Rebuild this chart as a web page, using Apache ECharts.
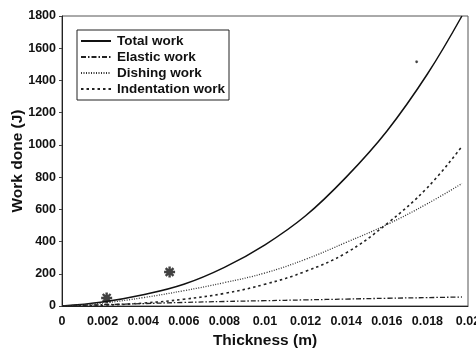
<!DOCTYPE html>
<html><head><meta charset="utf-8">
<script src="https://cdn.jsdelivr.net/npm/echarts@6/dist/echarts.min.js"></script>
<style>html,body{margin:0;padding:0;background:#fff}#c{width:476px;height:352px}</style>
</head><body><div id="c"></div>
<script>
const thickness = [0, 0.002, 0.004, 0.006, 0.008, 0.010, 0.012, 0.014, 0.016, 0.018, 0.0197];
const totalWork = [0, 25, 70, 135, 240, 380, 560, 800, 1085, 1440, 1800];
const elasticWork = [0, 8, 15, 22, 28, 33, 38, 43, 48, 52, 56];
const dishingWork = [0, 18, 52, 95, 145, 205, 290, 395, 505, 635, 760];
const indentationWork = [0, 5, 18, 42, 78, 135, 215, 330, 510, 735, 990];
const expThickness = [0.0022, 0.0053, 0.01747];
const expWork = [50, 211, 1516];
const xTicks = ['0','0.002','0.004','0.006','0.008','0.01','0.012','0.014','0.016','0.018','0.02'];

const pairs = (xs, ys) => xs.map((x, i) => [x, ys[i]]);
const asterisk = 'path://M-1.1,-5L1.1,-5L1.1,5L-1.1,5Z M-5,-1.1L5,-1.1L5,1.1L-5,1.1Z M-4.3,-2.8L-2.8,-4.3L4.3,2.8L2.8,4.3Z M2.8,-4.3L4.3,-2.8L-2.8,4.3L-4.3,2.8Z';
const font = 'Liberation Sans, Arial, sans-serif';

const chart = echarts.init(document.getElementById('c'), null, {renderer: 'canvas'});
chart.setOption({
  animation: false,
  backgroundColor: '#fff',
  grid: {left: 62, right: 8, top: 16, bottom: 46, show: true, borderColor: '#555', borderWidth: 1,
    containLabel: false, outerBoundsMode: 'none'},
  xAxis: {
    type: 'value', min: 0, max: 0.02, interval: 0.002,
    name: 'Thickness (m)', nameLocation: 'middle', nameGap: 27, nameMoveOverlap: false,
    nameTextStyle: {fontFamily: font, fontWeight: 'bold', fontSize: 15.5, color: '#111'},
    axisLine: {show: true, lineStyle: {color: '#222'}},
    axisTick: {show: false},
    splitLine: {show: false},
    axisLabel: {fontFamily: font, fontWeight: 'bold', fontSize: 12.5, color: '#111', margin: 9,
      showMaxLabel: true, hideOverlap: false,
      formatter: v => xTicks[Math.round(v / 0.002)]}
  },
  yAxis: {
    type: 'value', min: 0, max: 1800, interval: 200,
    name: 'Work done (J)', nameLocation: 'middle', nameGap: 36, nameRotate: 90, nameMoveOverlap: false,
    nameTextStyle: {fontFamily: font, fontWeight: 'bold', fontSize: 15.5, color: '#111'},
    axisLine: {show: true, lineStyle: {color: '#222'}},
    axisTick: {show: true, length: 3, lineStyle: {color: '#444'}},
    splitLine: {show: false},
    axisLabel: {fontFamily: font, fontWeight: 'bold', fontSize: 12.5, color: '#111', margin: 6,
      formatter: v => String(v)}
  },
  legend: {
    orient: 'vertical', left: 77, top: 30, padding: [4, 4, 4, 3], itemGap: 2,
    itemWidth: 30, itemHeight: 13.5, borderColor: '#222', borderWidth: 1,
    itemStyle: {opacity: 0},
    textStyle: {fontFamily: font, fontWeight: 'bold', fontSize: 13.5, lineHeight: 14, color: '#111', padding: [0, 0, 0, 1]},
    data: ['Total work', 'Elastic work', 'Dishing work', 'Indentation work']
  },
  series: [
    {name: 'Total work', type: 'line', smooth: 0.4, showSymbol: false, symbol: 'none',
      data: pairs(thickness, totalWork), lineStyle: {color: '#111', width: 1.5}, itemStyle: {color: '#111'}},
    {name: 'Elastic work', type: 'line', smooth: 0.4, showSymbol: false, symbol: 'none',
      data: pairs(thickness, elasticWork), lineStyle: {color: '#222', width: 1.3, type: [5, 2, 1.5, 2]}, itemStyle: {color: '#222'}},
    {name: 'Dishing work', type: 'line', smooth: 0.4, showSymbol: false, symbol: 'none',
      data: pairs(thickness, dishingWork), lineStyle: {color: '#333', width: 1.3, type: [1, 1.5]}, itemStyle: {color: '#333'}},
    {name: 'Indentation work', type: 'line', smooth: 0.4, showSymbol: false, symbol: 'none',
      data: pairs(thickness, indentationWork), lineStyle: {color: '#222', width: 1.6, type: [2.5, 3]}, itemStyle: {color: '#222'}},
    {name: 'Experiment', type: 'scatter', symbol: asterisk,
      symbolSize: (v, p) => p.dataIndex === 2 ? 3 : 11,
      data: pairs(expThickness, expWork), itemStyle: {color: '#111'}}
  ]
});
</script></body></html>
